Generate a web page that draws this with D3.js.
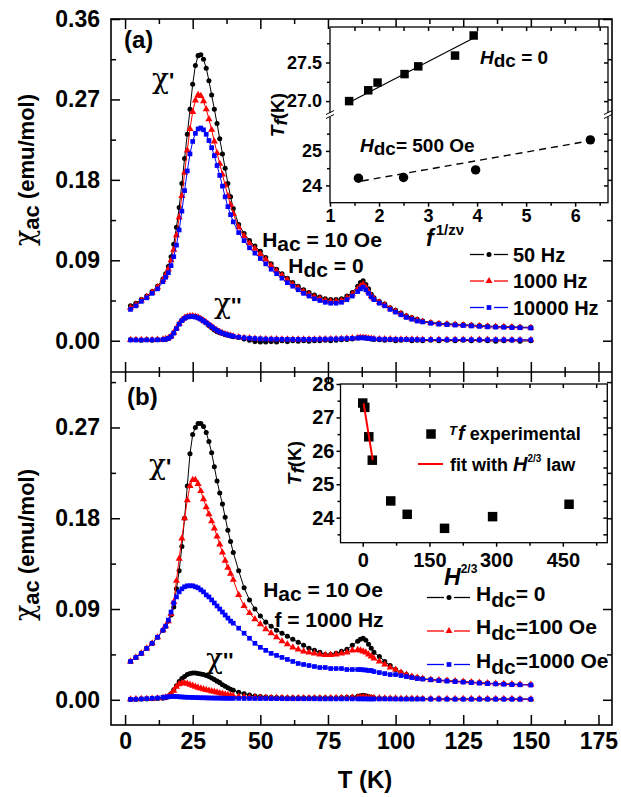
<!DOCTYPE html>
<html><head><meta charset="utf-8">
<script src="https://cdn.jsdelivr.net/npm/d3@7"></script>
<style>
body{margin:0;background:#fff}
svg{display:block}
text{font-family:"Liberation Sans",Arial,sans-serif;font-weight:bold;fill:#000}
</style>
</head><body><svg id="c" width="621" height="797"></svg>
<script>
// ---------------- DATA ----------------
const temps = [2,4,6,8,10,12,14,
 15,16,17,18,19,20,21,22,23,24,25,26,27,28,29,30,31,32,33,34,35,36,37,38,39,40,
 42,44,46,48,50,52,54,56,58,60,62,64,66,68,70,72,74,76,78,80,82,84,86,
 87,88,89,90,91,92,
 94,96,98,100,102,104,106,108,110,
 113,116,119,122,125,128,131,134,137,140,143,146,150];

// panel (a): chi' for 50, 1000, 10000 Hz
const a50 = [0.039,0.042,0.046,0.050,0.055,0.061,0.069,
 0.075,0.083,0.094,0.108,0.127,0.149,0.176,0.204,0.231,0.259,0.287,0.308,0.319,0.320,0.315,0.305,0.291,0.275,0.259,0.243,0.226,0.209,0.193,0.176,0.161,0.148,
 0.130,0.120,0.112,0.106,0.100,0.093,0.086,0.080,0.075,0.070,0.065,0.061,0.057,0.054,0.051,0.049,0.047,0.046,0.046,0.047,0.050,0.054,0.061,
 0.065,0.067,0.063,0.058,0.052,0.048,
 0.044,0.041,0.037,0.034,0.031,0.028,0.026,0.024,0.022,
 0.0205,0.0195,0.019,0.0185,0.018,0.0175,0.017,0.0165,0.016,0.0158,0.0155,0.0152,0.015];
const a1000 = [0.037,0.040,0.045,0.049,0.054,0.060,0.068,
 0.073,0.080,0.090,0.102,0.118,0.138,0.162,0.188,0.213,0.237,0.256,0.269,0.275,0.274,0.268,0.259,0.248,0.236,0.223,0.210,0.198,0.186,0.174,0.162,0.152,0.142,
 0.127,0.117,0.109,0.103,0.097,0.091,0.084,0.078,0.073,0.068,0.063,0.059,0.055,0.052,0.049,0.047,0.045,0.044,0.044,0.045,0.048,0.052,0.058,
 0.061,0.063,0.060,0.055,0.050,0.047,
 0.043,0.040,0.036,0.033,0.030,0.027,0.025,0.023,0.0215,
 0.020,0.019,0.0185,0.018,0.0175,0.017,0.0165,0.016,0.0157,0.0154,0.0151,0.0148,0.0145];
const a10000 = [0.035,0.039,0.044,0.048,0.053,0.058,0.066,
 0.071,0.076,0.084,0.094,0.107,0.124,0.145,0.168,0.190,0.209,0.223,0.232,0.237,0.238,0.236,0.231,0.224,0.216,0.207,0.196,0.185,0.173,0.161,0.150,0.141,0.133,
 0.121,0.112,0.104,0.098,0.092,0.086,0.080,0.075,0.070,0.065,0.061,0.057,0.053,0.050,0.047,0.045,0.043,0.042,0.042,0.043,0.046,0.050,0.055,
 0.058,0.060,0.057,0.053,0.049,0.046,
 0.042,0.039,0.035,0.032,0.029,0.026,0.024,0.022,0.021,
 0.0195,0.0185,0.018,0.0175,0.017,0.0165,0.016,0.0155,0.0152,0.015,0.0147,0.0145,0.0142];
// panel (a): chi''
const a50i = [0.001,0.001,0.0005,0.001,0.0005,0.001,0.001,
 0.0015,0.0025,0.005,0.009,0.014,0.019,0.023,0.0255,0.027,0.0275,0.0275,0.027,0.026,0.0245,0.0225,0.020,0.017,0.0145,0.012,0.010,0.009,0.008,0.0068,0.006,0.0052,0.0045,
 0.0035,0.002,0.0005,-0.001,-0.0015,-0.0015,-0.001,-0.0015,0.000,-0.001,0.000,-0.0005,0.000,-0.0005,0.000,0.000,0.0005,0.000,0.0005,0.001,0.0015,0.002,0.003,
 0.0035,0.0035,0.003,0.0025,0.002,0.0015,
 0.001,0.0005,0.001,0.000,0.0005,0.001,0.000,0.0005,0.000,
 0.0005,0.000,0.0005,0.000,0.0005,0.000,0.0005,0.000,-0.0005,0.000,0.0005,-0.0005,0.000];
const a1000i = [0.001,0.001,0.001,0.001,0.001,0.0012,0.0015,
 0.002,0.003,0.005,0.009,0.014,0.019,0.023,0.0255,0.027,0.0275,0.0275,0.027,0.026,0.0245,0.0225,0.0205,0.018,0.016,0.0135,0.0115,0.010,0.0085,0.0075,0.0065,0.0058,0.005,
 0.004,0.0033,0.0028,0.0024,0.0021,0.0019,0.0018,0.0017,0.0016,0.0016,0.0015,0.0015,0.0015,0.0016,0.0016,0.0017,0.0018,0.0019,0.002,0.0022,0.0025,0.0028,0.0032,
 0.0034,0.0034,0.0031,0.0027,0.0023,0.0021,
 0.0019,0.0018,0.0017,0.0016,0.0015,0.0015,0.0014,0.0014,0.0013,
 0.0013,0.0013,0.0012,0.0012,0.0012,0.0011,0.0011,0.0011,0.001,0.001,0.001,0.001,0.001];
const a10000i = [0.0008,0.0008,0.0008,0.0009,0.001,0.001,0.0013,
 0.0018,0.0026,0.0045,0.0085,0.0135,0.0185,0.0225,0.025,0.0265,0.027,0.027,0.0265,0.0255,0.024,0.022,0.020,0.0178,0.0157,0.0135,0.0115,0.0098,0.0085,0.0074,0.0065,0.0057,0.005,
 0.004,0.0033,0.0028,0.0024,0.0021,0.0019,0.0018,0.0017,0.0016,0.0015,0.0015,0.0015,0.0015,0.0015,0.0016,0.0017,0.0018,0.0019,0.002,0.0022,0.0024,0.0027,0.003,
 0.0032,0.0032,0.003,0.0026,0.0022,0.002,
 0.0018,0.0017,0.0016,0.0015,0.0014,0.0014,0.0013,0.0013,0.0012,
 0.0012,0.0012,0.0011,0.0011,0.0011,0.001,0.001,0.001,0.001,0.001,0.0009,0.0009,0.0009];

// panel (b): chi' for Hdc = 0, 100, 1000 Oe
const b0 = [0.038,0.042,0.046,0.051,0.056,0.062,0.069,
 0.073,0.078,0.084,0.092,0.110,0.128,0.152,0.180,0.212,0.244,0.263,0.270,0.274,0.274,0.271,0.265,0.256,0.245,0.231,0.217,0.205,0.194,0.181,0.168,0.157,0.146,
 0.128,0.111,0.099,0.090,0.083,0.077,0.073,0.069,0.066,0.063,0.060,0.057,0.054,0.051,0.049,0.047,0.045,0.045,0.046,0.048,0.050,0.054,0.058,
 0.060,0.061,0.059,0.055,0.051,0.047,
 0.043,0.038,0.034,0.030,0.027,0.025,0.023,0.022,0.021,
 0.020,0.0195,0.019,0.0185,0.018,0.0175,0.017,0.0165,0.016,0.0158,0.0155,0.0152,0.015];
const b100 = [0.038,0.042,0.046,0.051,0.056,0.062,0.069,
 0.073,0.078,0.085,0.097,0.118,0.140,0.160,0.180,0.198,0.212,0.218,0.218,0.214,0.207,0.199,0.191,0.184,0.177,0.170,0.162,0.154,0.146,0.138,0.131,0.125,0.119,
 0.104,0.093,0.086,0.080,0.075,0.070,0.066,0.062,0.058,0.055,0.052,0.050,0.048,0.047,0.046,0.045,0.0445,0.0445,0.045,0.046,0.047,0.049,0.0495,
 0.049,0.048,0.047,0.045,0.043,0.041,
 0.038,0.035,0.032,0.030,0.027,0.025,0.023,0.022,0.021,
 0.020,0.0195,0.019,0.0185,0.018,0.0175,0.017,0.0165,0.016,0.0158,0.0155,0.0152,0.015];
const b1000 = [0.038,0.042,0.046,0.051,0.056,0.062,0.069,
 0.073,0.079,0.087,0.096,0.102,0.107,0.110,0.112,0.113,0.113,0.113,0.112,0.111,0.109,0.107,0.104,0.102,0.099,0.096,0.093,0.090,0.087,0.084,0.081,0.078,0.076,
 0.071,0.066,0.061,0.056,0.052,0.049,0.046,0.044,0.042,0.040,0.038,0.036,0.035,0.034,0.033,0.032,0.032,0.031,0.031,0.031,0.030,0.030,0.030,
 0.030,0.0297,0.0295,0.029,0.029,0.028,
 0.027,0.026,0.025,0.025,0.024,0.023,0.022,0.021,0.0205,
 0.0198,0.019,0.0185,0.018,0.0175,0.017,0.0165,0.016,0.0157,0.0154,0.0151,0.0148,0.0146];
// panel (b): chi''
const b0i = [0.0005,0.0005,0.0007,0.0008,0.001,0.0012,0.0015,
 0.002,0.003,0.006,0.010,0.014,0.018,0.021,0.023,0.025,0.026,0.0265,0.0265,0.026,0.0255,0.025,0.024,0.023,0.0215,0.020,0.0185,0.017,0.015,0.0135,0.012,0.0105,0.0095,
 0.0075,0.006,0.0047,0.0038,0.0032,0.0028,0.0025,0.0023,0.0022,0.0021,0.002,0.002,0.002,0.002,0.002,0.002,0.002,0.002,0.0021,0.0022,0.0024,0.0028,0.0035,
 0.004,0.0045,0.004,0.0033,0.0026,0.002,
 0.0016,0.0014,0.0013,0.0012,0.0011,0.001,0.001,0.001,0.001,
 0.0009,0.0009,0.0008,0.0008,0.0008,0.0008,0.0007,0.0007,0.0007,0.0007,0.0007,0.0007,0.0006];
const b100i = [0.0005,0.0006,0.0008,0.001,0.0012,0.0015,0.002,
 0.0025,0.0035,0.0055,0.009,0.013,0.0155,0.0165,0.0165,0.016,0.015,0.014,0.013,0.012,0.0112,0.0105,0.0098,0.0092,0.0086,0.008,0.0073,0.0066,0.006,0.0054,0.0048,0.0043,0.0038,
 0.0032,0.0028,0.0025,0.0023,0.0021,0.002,0.0019,0.0018,0.0018,0.0017,0.0017,0.0016,0.0016,0.0016,0.0016,0.0016,0.0016,0.0017,0.0018,0.0019,0.002,0.0022,0.0025,
 0.0026,0.0027,0.0025,0.0022,0.002,0.0018,
 0.0016,0.0015,0.0014,0.0013,0.0012,0.0012,0.0011,0.0011,0.001,
 0.001,0.001,0.0009,0.0009,0.0009,0.0009,0.0008,0.0008,0.0008,0.0008,0.0008,0.0007,0.0007];
const b1000i = [0.0004,0.0006,0.0008,0.0011,0.0014,0.0018,0.0024,
 0.0027,0.003,0.0032,0.0033,0.0032,0.003,0.0028,0.0026,0.0025,0.0024,0.0023,0.0022,0.0021,0.002,0.002,0.0019,0.0018,0.0018,0.0017,0.0017,0.0016,0.0016,0.0015,0.0015,0.0015,0.0014,
 0.0014,0.0013,0.0013,0.0012,0.0012,0.0012,0.0011,0.0011,0.0011,0.001,0.001,0.001,0.001,0.001,0.001,0.0009,0.0009,0.0009,0.0009,0.0009,0.0009,0.0009,0.0009,
 0.0009,0.0009,0.0009,0.0008,0.0008,0.0008,
 0.0008,0.0008,0.0008,0.0007,0.0007,0.0007,0.0007,0.0007,0.0007,
 0.0007,0.0007,0.0006,0.0006,0.0006,0.0006,0.0006,0.0006,0.0006,0.0006,0.0006,0.0006,0.0006];

// inset (a): Tf vs f^(1/zν)
const insA_x0 = [1.39,1.78,1.97,2.52,2.80,3.55,3.93];
const insA_y0 = [27.00,27.14,27.24,27.35,27.45,27.59,27.85];
const insA_fitX0 = [1.35,4.0];
const insA_fitY0 = [26.97,27.84];
const insA_x500 = [1.58,2.50,3.97,6.31];
const insA_y500 = [24.21,24.23,24.45,25.32];
const insA_fitX500 = [1.65,6.25];
const insA_fitY500 = [24.13,25.28];

// inset (b): Tf vs H^(2/3)
const insB_x = [0,4.6,13.6,21.5,63,100,184,292,464];
const insB_y = [27.43,27.30,26.42,25.72,24.50,24.10,23.68,24.03,24.40];
const insB_fitX = [2,22.5];
const insB_fitY = [27.42,25.72];

// tick values / labels
const xMajor = [0,25,50,75,100,125,150,175];
const xMinor = [12.5,37.5,62.5,87.5,112.5,137.5,162.5];
const yaMajor = [0,0.09,0.18,0.27,0.36];
const yaMinor = [0.045,0.135,0.225,0.315];
const ybMajor = [0,0.09,0.18,0.27];
const ybMinor = [0.045,0.135,0.225,0.315];
const legendA = ["50 Hz","1000 Hz","10000 Hz"];
const legendB = ["= 0","=100 Oe","=1000 Oe"];

// ---------------- DRAW ----------------
const svg = d3.select("#c");
const X0=111, X1=612, YA0=19, YM=372, YB1=725;
const x = d3.scaleLinear().domain([-5.2,180]).range([X0,X1]);
const ya = d3.scaleLinear().domain([-0.035,0.36]).range([YM,YA0]);
const yb = d3.scaleLinear().domain([-0.025,0.325]).range([YB1,YM]);
const GREEK = "'DejaVu Serif','Liberation Serif',serif";

function clean(g, fs){
  g.select(".domain").remove();
  g.selectAll(".tick line").attr("stroke","#000").attr("stroke-width",1.5);
  g.selectAll(".tick text").attr("font-size",fs).attr("font-family","'Liberation Sans',Arial,sans-serif").attr("font-weight","bold").attr("fill","#000");
  return g;
}
function axisSet(y, yTop, yBot, major, minor, xLabels){
  clean(svg.append("g").attr("transform",`translate(${X0},0)`)
    .call(d3.axisLeft(y).tickValues(major).tickSize(-9).tickPadding(11).tickFormat(d3.format(".2f"))),23);
  clean(svg.append("g").attr("transform",`translate(${X0},0)`)
    .call(d3.axisLeft(y).tickValues(minor).tickSize(-5).tickFormat("")),10);
  clean(svg.append("g").attr("transform",`translate(${X1},0)`)
    .call(d3.axisRight(y).tickValues(major).tickSize(-9).tickFormat("")),10);
  clean(svg.append("g").attr("transform",`translate(${X1},0)`)
    .call(d3.axisRight(y).tickValues(minor).tickSize(-5).tickFormat("")),10);
  clean(svg.append("g").attr("transform",`translate(0,${yTop})`)
    .call(d3.axisTop(x).tickValues(xMajor).tickSize(-10).tickFormat("")),10);
  clean(svg.append("g").attr("transform",`translate(0,${yTop})`)
    .call(d3.axisTop(x).tickValues(xMinor).tickSize(-5).tickFormat("")),10);
  clean(svg.append("g").attr("transform",`translate(0,${yBot})`)
    .call(d3.axisBottom(x).tickValues(xMajor).tickSize(-10).tickPadding(8).tickFormat(xLabels? d3.format("d"):"")),23);
  clean(svg.append("g").attr("transform",`translate(0,${yBot})`)
    .call(d3.axisBottom(x).tickValues(xMinor).tickSize(-5).tickFormat("")),10);
}
axisSet(ya, YA0, YM, yaMajor, yaMinor, false);
axisSet(yb, YM, YB1, ybMajor, ybMinor, true);

svg.append("rect").attr("x",X0).attr("y",YA0).attr("width",X1-X0).attr("height",YB1-YA0)
  .attr("fill","none").attr("stroke","#000").attr("stroke-width",1.6);
svg.append("line").attr("x1",X0).attr("x2",X1).attr("y1",YM).attr("y2",YM).attr("stroke","#000").attr("stroke-width",1.6);

const SH = {
  circle:{type:d3.symbolCircle,size:20},
  tri:{type:d3.symbolTriangle,size:22},
  sq:{type:d3.symbolSquare,size:22}
};
function drawSeries(y, vals, color, shp){
  const g = svg.append("g");
  g.append("path").datum(vals)
    .attr("d", d3.line().x((d,i)=>x(temps[i])).y(d=>y(d)))
    .attr("fill","none").attr("stroke",color).attr("stroke-width",1);
  const sym = d3.symbol().type(shp.type).size(shp.size);
  g.selectAll("path.m").data(vals).join("path").attr("class","m")
    .attr("transform",(d,i)=>`translate(${x(temps[i])},${y(d)})`)
    .attr("d",sym).attr("fill",color);
}
const BLK="#000", RED="#ff0000", BLU="#0000ff";
drawSeries(ya,a50i,BLK,SH.circle);
drawSeries(ya,a1000i,RED,SH.tri);
drawSeries(ya,a10000i,BLU,SH.sq);
drawSeries(ya,a50,BLK,SH.circle);
drawSeries(ya,a1000,RED,SH.tri);
drawSeries(ya,a10000,BLU,SH.sq);

drawSeries(yb,b0i,BLK,SH.circle);
drawSeries(yb,b100i,RED,SH.tri);
drawSeries(yb,b1000i,BLU,SH.sq);
drawSeries(yb,b0,BLK,SH.circle);
drawSeries(yb,b100,RED,SH.tri);
drawSeries(yb,b1000,BLU,SH.sq);

function rich(parent, xx, yy, parts, anchor){
  const t = parent.append("text").attr("x",xx).attr("y",yy).attr("text-anchor",anchor||"start");
  parts.forEach(p=>{
    const s = t.append("tspan").text(p.t).attr("font-size",p.fs);
    if(p.dy) s.attr("dy",p.dy);
    if(p.dx) s.attr("dx",p.dx);
    if(p.it) s.attr("font-style","italic");
    if(p.serif) s.attr("font-family",GREEK).attr("font-weight","normal");
  });
  return t;
}

// y axis titles
function yTitle(cy){
  rich(svg,0,0,[{t:"χ",fs:27,serif:true},{t:"ac",fs:22,dy:5},{t:" (emu/mol)",fs:22,dy:-5}],"middle")
    .attr("transform",`translate(34,${cy}) rotate(-90)`);
}
yTitle(170);
yTitle(545);

svg.append("text").attr("x",365).attr("y",788).attr("text-anchor","middle").attr("font-size",24).text("T (K)");

svg.append("text").attr("x",124).attr("y",48).attr("font-size",24).text("(a)");
svg.append("text").attr("x",127).attr("y",405).attr("font-size",24).text("(b)");
rich(svg,152,88,[{t:"χ",fs:28,serif:true},{t:"'",fs:22}]);
rich(svg,214,313,[{t:"χ",fs:28,serif:true},{t:"''",fs:22}]);
rich(svg,149,474,[{t:"χ",fs:28,serif:true},{t:"'",fs:22}]);
rich(svg,206,668,[{t:"χ",fs:28,serif:true},{t:"''",fs:22}]);

rich(svg,322,247,[{t:"H",fs:21},{t:"ac",fs:21,dy:4},{t:" = 10 Oe",fs:21,dy:-4}],"middle");
rich(svg,326,273,[{t:"H",fs:21},{t:"dc",fs:21,dy:4},{t:" = 0",fs:21,dy:-4}],"middle");
rich(svg,323,597,[{t:"H",fs:21},{t:"ac",fs:21,dy:4},{t:" = 10 Oe",fs:21,dy:-4}],"middle");
svg.append("text").attr("x",329).attr("y",627).attr("text-anchor","middle").attr("font-size",21).text("f = 1000 Hz");

function legendRow(xl, xr, xm, yy, color, shp, gap){
  svg.append("line").attr("x1",xl).attr("x2",xm-gap).attr("y1",yy).attr("y2",yy).attr("stroke",color).attr("stroke-width",1.3);
  svg.append("line").attr("x1",xm+gap).attr("x2",xr).attr("y1",yy).attr("y2",yy).attr("stroke",color).attr("stroke-width",1.3);
  svg.append("path").attr("d",d3.symbol().type(shp.type).size(shp.size)()).attr("transform",`translate(${xm},${yy})`).attr("fill",color);
}
const legAy = [254.5,281,307.5];
const cols=[BLK,RED,BLU], shps=[SH.circle,SH.tri,SH.sq];
legendA.forEach((s,i)=>{
  legendRow(470,508,489,legAy[i],cols[i],shps[i],5);
  svg.append("text").attr("x",513).attr("y",legAy[i]+7).attr("font-size",20).text(s);
});
const legBy = [597.5,631,664.5];
legendB.forEach((s,i)=>{
  legendRow(427,470,449,legBy[i],cols[i],shps[i],5);
  rich(svg,476,legBy[i]+3,[{t:"H",fs:21},{t:"dc",fs:21,dy:6},{t:s,fs:21,dy:-6}]);
});

// ---------------- INSET (a) ----------------
const IA = {l:330,r:608,t:27,b:202.7,brk:115};
svg.append("rect").attr("x",IA.l).attr("y",IA.t).attr("width",IA.r-IA.l).attr("height",IA.b-IA.t).attr("fill","#fff").attr("stroke","none");
const iax = d3.scaleLinear().domain([1,6.67]).range([IA.l,IA.r]);
const iayU = d3.scaleLinear().domain([26.82,27.96]).range([IA.brk,IA.t]);
const iayL = d3.scaleLinear().domain([23.5,26.04]).range([IA.b,IA.brk]);
clean(svg.append("g").attr("transform",`translate(${IA.l},0)`).call(d3.axisLeft(iayU).tickValues([27.0,27.5]).tickSize(4).tickPadding(4).tickFormat(d3.format(".1f"))),18);
clean(svg.append("g").attr("transform",`translate(${IA.l},0)`).call(d3.axisLeft(iayU).tickValues([27.25,27.75]).tickSize(3).tickFormat("")),10);
clean(svg.append("g").attr("transform",`translate(${IA.l},0)`).call(d3.axisLeft(iayL).tickValues([24,25]).tickSize(4).tickPadding(4).tickFormat(d3.format("d"))),18);
clean(svg.append("g").attr("transform",`translate(${IA.l},0)`).call(d3.axisLeft(iayL).tickValues([24.5,25.5]).tickSize(3).tickFormat("")),10);
clean(svg.append("g").attr("transform",`translate(${IA.r},0)`).call(d3.axisRight(iayU).tickValues([27.0,27.25,27.5,27.75]).tickSize(-4).tickFormat("")),10);
clean(svg.append("g").attr("transform",`translate(${IA.r},0)`).call(d3.axisRight(iayL).tickValues([24,24.5,25,25.5]).tickSize(-4).tickFormat("")),10);
clean(svg.append("g").attr("transform",`translate(0,${IA.b})`).call(d3.axisBottom(iax).tickValues([1,2,3,4,5,6]).tickSize(4).tickPadding(3).tickFormat(d3.format("d"))),18);
clean(svg.append("g").attr("transform",`translate(0,${IA.b})`).call(d3.axisBottom(iax).tickValues([1.5,2.5,3.5,4.5,5.5,6.5]).tickSize(3).tickFormat("")),10);
clean(svg.append("g").attr("transform",`translate(0,${IA.t})`).call(d3.axisTop(iax).tickValues([1.5,2,2.5,3,3.5,4,4.5,5,5.5,6,6.5]).tickSize(-4).tickFormat("")),10);
svg.append("rect").attr("x",IA.l).attr("y",IA.t).attr("width",IA.r-IA.l).attr("height",IA.b-IA.t).attr("fill","none").attr("stroke","#000").attr("stroke-width",1.3);
[IA.l, IA.r].forEach(xx=>{
  svg.append("rect").attr("x",xx-3).attr("y",IA.brk-2).attr("width",6).attr("height",4).attr("fill","#fff");
  svg.append("line").attr("x1",xx-4).attr("y1",IA.brk-0.5).attr("x2",xx+4).attr("y2",IA.brk-4.5).attr("stroke","#000").attr("stroke-width",1);
  svg.append("line").attr("x1",xx-4).attr("y1",IA.brk+3.5).attr("x2",xx+4).attr("y2",IA.brk-0.5).attr("stroke","#000").attr("stroke-width",1);
});
svg.append("path").datum(insA_fitX0.map((v,i)=>[v,insA_fitY0[i]]))
  .attr("d",d3.line().x(d=>iax(d[0])).y(d=>iayU(d[1]))).attr("stroke","#000").attr("stroke-width",1.2).attr("fill","none");
svg.append("path").datum(insA_fitX500.map((v,i)=>[v,insA_fitY500[i]]))
  .attr("d",d3.line().x(d=>iax(d[0])).y(d=>iayL(d[1]))).attr("stroke","#000").attr("stroke-width",1.4).attr("stroke-dasharray","7,5").attr("fill","none");
svg.selectAll(null).data(insA_x0).join("path")
  .attr("transform",(d,i)=>`translate(${iax(d)},${iayU(insA_y0[i])})`)
  .attr("d",d3.symbol().type(d3.symbolSquare).size(72)).attr("fill","#000");
svg.selectAll(null).data(insA_x500).join("path")
  .attr("transform",(d,i)=>`translate(${iax(d)},${iayL(insA_y500[i])})`)
  .attr("d",d3.symbol().type(d3.symbolCircle).size(70)).attr("fill","#000");
rich(svg,480,64,[{t:"H",fs:19,it:true},{t:"dc",fs:19,dy:3},{t:" = 0",fs:19,dy:-3}]);
rich(svg,360,152,[{t:"H",fs:19,it:true},{t:"dc",fs:19,dy:3},{t:"= 500 Oe",fs:19,dy:-3}]);
rich(svg,0,0,[{t:"T",fs:19,it:true},{t:"f",fs:19,it:true,dy:3},{t:"(K)",fs:19,dy:-3}],"middle")
  .attr("transform","translate(284,115) rotate(-90)");
rich(svg,426,246,[{t:"f",fs:23,it:true},{t:"1/zν",fs:15,dy:-11,dx:2}]);

// ---------------- INSET (b) ----------------
const IB = {l:340.5,r:607.3,t:384,b:542.7};
svg.append("rect").attr("x",IB.l).attr("y",IB.t).attr("width",IB.r-IB.l).attr("height",IB.b-IB.t).attr("fill","#fff").attr("stroke","none");
const ibx = d3.scaleLinear().domain([-50,550]).range([IB.l,IB.r]);
const iby = d3.scaleLinear().domain([23.25,28]).range([IB.b,IB.t]);
clean(svg.append("g").attr("transform",`translate(${IB.l},0)`).call(d3.axisLeft(iby).tickValues([24,25,26,27,28]).tickSize(4).tickPadding(2).tickFormat(d3.format("d"))),20);
clean(svg.append("g").attr("transform",`translate(${IB.l},0)`).call(d3.axisLeft(iby).tickValues([23.5,24.5,25.5,26.5,27.5]).tickSize(3).tickFormat("")),10);
clean(svg.append("g").attr("transform",`translate(${IB.r},0)`).call(d3.axisRight(iby).tickValues([23.5,24,24.5,25,25.5,26,26.5,27,27.5]).tickSize(-4).tickFormat("")),10);
clean(svg.append("g").attr("transform",`translate(0,${IB.b})`).call(d3.axisBottom(ibx).tickValues([0,150,300,450]).tickSize(4).tickPadding(6).tickFormat(d3.format("d"))),20);
clean(svg.append("g").attr("transform",`translate(0,${IB.b})`).call(d3.axisBottom(ibx).tickValues([75,225,375,525]).tickSize(3).tickFormat("")),10);
clean(svg.append("g").attr("transform",`translate(0,${IB.t})`).call(d3.axisTop(ibx).tickValues([0,75,150,225,300,375,450,525]).tickSize(-4).tickFormat("")),10);
svg.append("rect").attr("x",IB.l).attr("y",IB.t).attr("width",IB.r-IB.l).attr("height",IB.b-IB.t).attr("fill","none").attr("stroke","#000").attr("stroke-width",1.3);
svg.selectAll(null).data(insB_x).join("path")
  .attr("transform",(d,i)=>`translate(${ibx(d)},${iby(insB_y[i])})`)
  .attr("d",d3.symbol().type(d3.symbolSquare).size(90)).attr("fill","#000");
svg.append("path").datum(insB_fitX.map((v,i)=>[v,insB_fitY[i]]))
  .attr("d",d3.line().x(d=>ibx(d[0])).y(d=>iby(d[1]))).attr("stroke",RED).attr("stroke-width",2).attr("fill","none");
svg.append("path").attr("d",d3.symbol().type(d3.symbolSquare).size(90)()).attr("transform","translate(431,434)").attr("fill","#000");
rich(svg,449,440,[{t:"T",fs:13,it:true,dy:-5},{t:"f",fs:20,it:true,dy:5,dx:1},{t:" experimental",fs:18}]);
svg.append("line").attr("x1",418).attr("x2",443).attr("y1",464).attr("y2",464).attr("stroke",RED).attr("stroke-width",2);
rich(svg,450,471,[{t:"fit with ",fs:18},{t:"H",fs:20,it:true},{t:"2/3",fs:10,dy:-9},{t:" law",fs:18,dy:9}]);
rich(svg,0,0,[{t:"T",fs:19,it:true},{t:"f",fs:19,it:true,dy:3},{t:"(K)",fs:19,dy:-3}],"middle")
  .attr("transform","translate(301,463) rotate(-90)");
rich(svg,444,585,[{t:"H",fs:23,it:true},{t:"2/3",fs:12,dy:-12}]);
</script></body></html>
